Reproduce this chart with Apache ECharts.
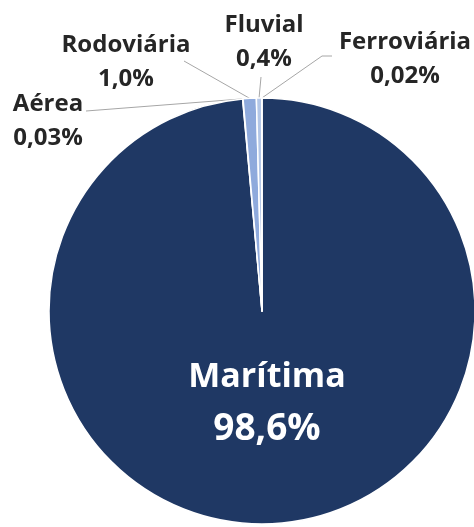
<!DOCTYPE html>
<html>
<head>
<meta charset="utf-8">
<style>html,body{margin:0;padding:0;background:#fff}#c{width:474px;height:527px}</style>
<script src="https://cdn.jsdelivr.net/npm/echarts@6/dist/echarts.min.js"></script>
</head>
<body>
<div id="c"></div>
<script>
const categories = ['Marítima', 'Aérea', 'Rodoviária', 'Fluvial', 'Ferroviária'];
const shares = [98.6, 0.03, 1.0, 0.4, 0.02];
const colors = ['#1F3864', '#2F5597', '#8FAADC', '#B4C7E7', '#DAE3F3'];

function fmt(v) {
  return (v >= 0.1 ? v.toFixed(1) : v.toFixed(2)).replace('.', ',') + '%';
}

// outside label placement (style/layout only)
const labelSpots = {
  1: { x: 48, y: 121, end: [[86, 111]] },
  2: { x: 126, y: 62, end: [[184, 61]] },
  3: { x: 264, y: 42, end: [[261, 77]] },
  4: { x: 405, y: 59, end: [[322, 56], [332, 56]] }
};

const chart = echarts.init(document.getElementById('c'), null, { renderer: 'canvas' });
chart.setOption({
  animation: false,
  series: [{
    type: 'pie',
    center: [262, 311],
    radius: 213,
    startAngle: 90,
    clockwise: true,
    avoidLabelOverlap: false,
    itemStyle: { borderColor: '#ffffff', borderWidth: 1.5 },
    label: {
      show: true,
      position: 'outside',
      fontFamily: 'Open Sans',
      fontWeight: 'bold',
      color: '#262626',
      fontSize: 24,
      lineHeight: 34,
      align: 'center',
      formatter: p => p.name + '\n' + fmt(p.value)
    },
    labelLine: { show: true, length: 10, length2: 10, lineStyle: { color: '#A6A6A6', width: 1 } },
    labelLayout: function (p) {
      if (p.dataIndex === 0) {
        return { dy: -17 };
      }
      const s = labelSpots[p.dataIndex];
      if (!s) return {};
      const res = { x: s.x, y: s.y, align: 'center', verticalAlign: 'middle' };
      if (p.labelLinePoints && p.labelLinePoints.length) {
        res.labelLinePoints = [p.labelLinePoints[0]].concat(s.end);
      }
      return res;
    },
    data: categories.map((c, i) => {
      const d = { name: c, value: shares[i], itemStyle: { color: colors[i] } };
      if (i === 0) {
        d.label = {
          position: 'inside',
          formatter: p => '{n|' + p.name + '}\n{v|' + fmt(p.value) + '}',
          rich: {
            n: { color: '#ffffff', fontSize: 34, lineHeight: 53, fontFamily: 'Open Sans', fontWeight: 'bold' },
            v: { color: '#ffffff', fontSize: 37, lineHeight: 53, fontFamily: 'Open Sans', fontWeight: 'bold' }
          }
        };
        d.labelLine = { show: false };
      }
      return d;
    })
  }]
});
</script>
</body>
</html>
